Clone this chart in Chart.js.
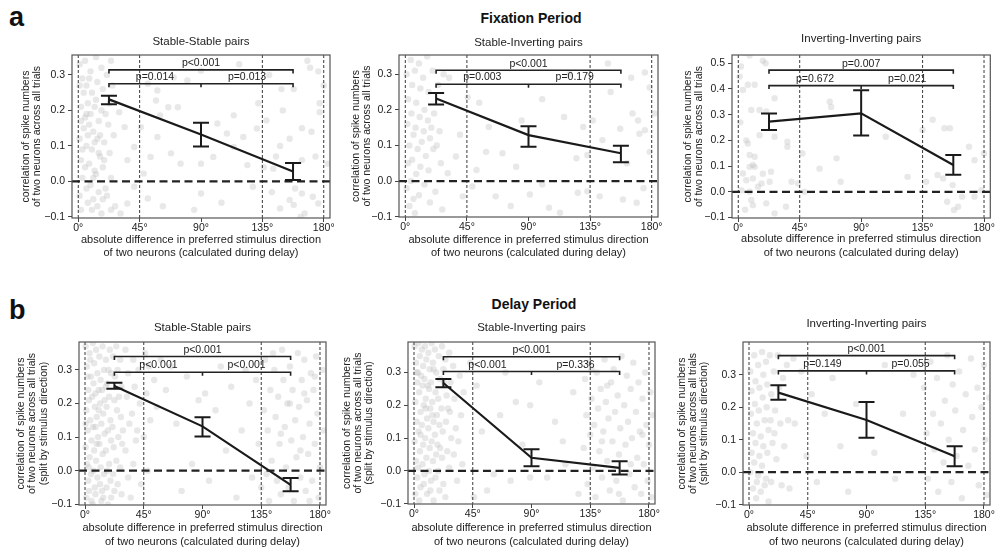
<!DOCTYPE html>
<html>
<head>
<meta charset="utf-8">
<script src="https://cdn.jsdelivr.net/npm/chart.js@4.4.0/dist/chart.umd.min.js"></script>
<style>
  body { margin: 0; width: 995px; height: 548px; position: relative; overflow: hidden; background: #fff;
         font-family: "Liberation Sans", Arial, sans-serif; color: #111; }
  canvas { position: absolute; }
  .letter { position: absolute; font-size: 27px; font-weight: bold; line-height: 1; }
  .period { position: absolute; font-size: 14px; font-weight: bold; transform: translate(-50%, -50%); white-space: nowrap; }
</style>
</head>
<body>
<div class="letter" style="left:9px;top:4px">a</div>
<div class="letter" style="left:9px;top:297px">b</div>
<div class="period" style="left:531px;top:18px">Fixation Period</div>
<div class="period" style="left:534px;top:304px">Delay Period</div>
<script>
// shared axis setup
const dirTicks = [0, 45, 90, 135, 180];
const refDirs = [0, 45, 135, 180];
const groupDirs = [22.5, 90, 157.5];
const yTicksLow = [-0.1, 0, 0.1, 0.2, 0.3];
const yTicksHigh = [-0.1, 0, 0.1, 0.2, 0.3, 0.4, 0.5];
const xTitle = ['absolute difference in preferred stimulus direction', 'of two neurons (calculated during delay)'];
const yTitleFix = ['correlation of spike numbers', 'of two neurons across all trials'];
const yTitleDelay = ['correlation of spike numbers', 'of two neurons across all trials', '(split by stimulus direction)'];

// ---- Fixation period ----
const fixSSMean = [0.231, 0.132, 0.028];
const fixSSLo = [0.217, 0.098, 0.004];
const fixSSHi = [0.241, 0.165, 0.052];
const fixSSBrk = [0.314, 0.275];
const fixSSP = ['p<0.001', 'p=0.014', 'p=0.013'];
const fixSSPts = [
  [1,0.33],[3,0.29],[2,0.21],[4,0.15],[1,0.12],[2,0.06],[3,0.01],[1,-0.04],[2,-0.08],[5,0.34],[6,0.27],[7,0.22],
  [5,0.18],[6,0.10],[8,0.05],[6,-0.02],[7,-0.06],[9,0.31],[10,0.25],[9,0.19],[11,0.14],[10,0.09],[12,0.03],[9,-0.01],
  [11,-0.05],[13,0.35],[14,0.28],[13,0.23],[15,0.17],[14,0.12],[16,0.07],[13,0.02],[15,-0.03],[17,0.32],[18,0.26],
  [17,0.20],[19,0.11],[18,0.04],[20,-0.02],[17,-0.09],[21,0.30],[22,0.16],[23,0.08],[21,-0.04],[24,0.34],[25,0.27],
  [26,0.13],[24,0.01],[27,-0.07],[4,0.25],[8,0.16],[12,0.21],[16,0.13],[3,0.09],[11,0.01],[19,0.06],[7,0.13],[15,0.08],
  [2,0.17],[20,0.19],[10,-0.08],[14,-0.07],[5,0.04],[23,0.22],[8,0.29],[12,0.11],[18,-0.05],[6,0.19],[1,0.27],
  [170,0.32],[176,0.31],[149,0.26],[158,0.26],[177,0.22],[177,0.195],[132,0.22],[150,0.2],[164,0.15],[171,0.14],
  [155,0.12],[148,0.10],[174,0.07],[164,0.06],[145,0.07],[136,0.04],[143,0.036],[142,-0.03],[159,-0.02],[164,-0.034],
  [172,-0.043],[176,-0.062],[155,-0.052],[158,-0.066],[166,-0.09],[163,-0.1],[148,-0.076],[128,-0.015],[124,0.046],
  [114,0.097],[121,0.125],[131,0.149],[138,0.172],[109,0.135],[114,0.186],[102,0.163],[90,0.312],[80,0.284],[70,0.293],
  [58,0.256],[51,0.275],[57,0.228],[66,0.209],[73,0.209],[60,0.186],[46,0.153],[58,0.125],[68,0.079],[75,0.05],[90,0.05],
  [90,-0.034],[99,0.069],[53,0.069],[48,0.022],[41,-0.015],[51,-0.048],[36,-0.062],[31,-0.09],[24,-0.08],[41,0.097],
  [36,0.06],[30,0.195],[34,0.153],[180,0.27],[183,0.05],[168,0.34],[140,0.30],[118,0.33],[105,-0.06],[85,-0.08],[62,-0.07]
];

const fixSIMean = [0.232, 0.129, 0.078];
const fixSILo = [0.215, 0.096, 0.053];
const fixSIHi = [0.247, 0.154, 0.099];
const fixSIBrk = [0.311, 0.272];
const fixSIP = ['p<0.001', 'p=0.003', 'p=0.179'];
const fixSIPts = [
  [1,0.30],[2,0.23],[1.5,0.16],[3,0.10],[2,0.05],[1,-0.02],[3,-0.07],[4,0.34],[5,0.27],[4.5,0.19],[6,0.13],[5,0.06],
  [4,0.00],[6,-0.05],[7,0.31],[8,0.22],[7.5,0.15],[9,0.09],[8,0.02],[7,-0.09],[10,0.33],[11,0.26],[10.5,0.18],[12,0.11],
  [11,0.04],[10,-0.04],[13,0.29],[14,0.20],[13.5,0.14],[15,0.07],[14,-0.01],[16,0.35],[17,0.25],[16.5,0.17],[18,0.12],
  [17,0.03],[18,-0.06],[20,0.31],[21,0.19],[20.5,0.09],[22,-0.03],[24,0.27],[25,0.14],[26,0.05],[28,0.30],[27,-0.08],
  [19,0.15],[23,0.10],
  [32,0.29],[45.6,0.235],[54,0.22],[100,0.23],[116,0.18],[165,0.29],[175,0.305],[178.5,0.263],[166,0.19],[170,0.17],
  [171,0.133],[175,0.143],[178.5,0.082],[157,0.147],[144,0.115],[137,0.17],[130,0.152],[133,0.073],[125,0.064],
  [126,-0.033],[133,-0.029],[142,-0.043],[159,-0.052],[169,-0.061],[105,-0.075],[113,-0.089],[100,-0.01],[81,0.04],
  [71,0.078],[61,0.152],[59,0.082],[52,0.031],[49,-0.015],[42,-0.043],[37,0.069],[31,0.022],[66,-0.043],[91,-0.038],
  [77,-0.07],[150,0.25],[162,0.05],[174,-0.02],[182,0.19],[148,0.33],[120,0.30],[85,0.17],[40,0.13]
];

const fixIIMean = [0.273, 0.305, 0.104];
const fixIILo = [0.240, 0.219, 0.066];
const fixIIHi = [0.304, 0.395, 0.143];
const fixIIBrk = [0.473, 0.413];
const fixIIP = ['p=0.007', 'p=0.672', 'p=0.021'];
const fixIIPts = [
  [4.6,0.54],[8.3,0.53],[18,0.51],[20,0.5],[2,0.487],[3.4,0.396],[1,0.448],[7,0.416],[12,0.416],[15.6,0.318],[9.5,0.318],
  [20.5,0.312],[26.6,0.364],[15.6,0.22],[5.9,0.2],[7,0.188],[8.3,0.143],[12,0.136],[10.7,0.104],[12,0.097],[8.3,0.097],
  [3.4,0.071],[5.9,0.045],[10.7,0.052],[2.2,0.006],[8.3,0],[14.4,0.02],[17,0.032],[23,0.039],[24,0.078],[9.5,-0.032],
  [10.7,-0.052],[20.5,-0.045],[26.6,-0.084],[35,-0.058],[39,0.039],[43.7,0.032],[36,0.195],[36,0.175],[26.6,0.214],
  [47,0.149],[48.5,0],[67,0.35],[68,0.33],[59.5,0.09],[72,0.13],[75,0.039],[108,0.214],[135,0.24],[142.4,0.28],
  [151,0.247],[155,0.247],[146,0.065],[150,0.052],[157,0.026],[153,-0.039],[161,-0.058],[158,-0.071],[169,0.175],
  [173,0.123],[173,-0.019],[178,0.006],[180,0.149],[164,-0.019],[124,0.058],[137.6,0.039],[1.5,0.27],[18,0.07],[5,-0.07]
];

// ---- Delay period ----
const delSSMean = [0.252, 0.132, -0.042];
const delSSLo = [0.244, 0.102, -0.061];
const delSSHi = [0.262, 0.159, -0.022];
const delSSBrk = [0.340, 0.293];
const delSSP = ['p<0.001', 'p<0.001', 'p<0.001'];
const delSSPts = [
  [0.5,0.37],[1.5,0.31],[2.5,0.24],[1,0.18],[2,0.12],[0.5,0.07],[1.5,0.02],[2.5,-0.03],[1,-0.08],
  [3.5,0.35],[4.5,0.28],[3,0.21],[4,0.15],[5,0.09],[3.5,0.04],[4.5,-0.01],[3,-0.06],[5,-0.09],
  [6,0.38],[7,0.32],[6.5,0.26],[7.5,0.19],[6,0.13],[7,0.06],[6.5,0.00],[7.5,-0.05],[6,-0.1],
  [8.5,0.36],[9.5,0.29],[8,0.23],[9,0.16],[10,0.10],[8.5,0.03],[9.5,-0.02],[8,-0.07],
  [11,0.34],[12,0.27],[11.5,0.20],[12.5,0.14],[11,0.08],[12,0.01],[11.5,-0.04],[12.5,-0.09],
  [13.5,0.37],[14.5,0.30],[13,0.24],[14,0.17],[15,0.11],[13.5,0.05],[14.5,-0.01],[13,-0.06],
  [16,0.33],[17,0.26],[16.5,0.19],[17.5,0.12],[16,0.06],[17,0.00],[16.5,-0.05],[17.5,-0.1],
  [19,0.36],[20,0.29],[18.5,0.22],[19.5,0.15],[20,0.09],[18.5,0.02],[19.5,-0.03],[20,-0.08],
  [21.5,0.34],[22.5,0.21],[21,0.13],[22,0.07],[21.5,-0.01],[22.5,-0.06],
  [24,0.37],[25,0.30],[24.5,0.18],[25.5,0.10],[24,0.03],[25,-0.04],
  [27,0.33],[28,0.25],[27.5,0.16],[28.5,0.08],[27,0.01],[28,-0.07],
  [2,0.28],[5.5,0.22],[8,0.13],[10.5,0.18],[15,0.21],[18,0.30],[3,0.01],[9,0.08],[14,-0.08],[23,0.28],[26,0.22],
  [29,0.12],[0.5,0.14],[10.5,0.24],[4,0.33],[16,0.25],
  [31,0.36],[33,0.29],[32,0.22],[34,0.14],[31,0.06],[33,-0.02],[35,-0.08],[37,0.33],[38,0.25],[36,0.17],[39,0.09],
  [37,0.02],[41,0.30],[42,0.20],[40,0.12],[43,-0.04],[46,0.35],[47,0.23],[45,0.10],[49,0.31],[50,0.15],[48,0.00],
  [53,0.27],[55,0.19],[58,0.33],
  [62,0.24],[66,0.31],[70,0.14],[74,-0.06],[78,0.28],[82,0.02],[87,0.21],[92,0.23],[95,-0.03],[100,0.18],[104,0.31],
  [108,0.06],[112,0.25],[116,-0.08],[120,0.12],[123,0.30],[126,0.20],[128,-0.02],
  [131,0.27],[133,0.08],[135,-0.05],[137,0.18],[138,0.33],[140,0.12],[141,-0.09],[142,0.24],[143,0.03],[145,0.30],
  [146,0.16],[147,-0.03],[148,0.22],[149,0.08],[150,-0.07],[151,0.36],[152,0.27],[153,0.13],[154,0.01],[155,0.20],
  [156,-0.05],[157,0.31],[158,0.09],[159,0.24],[160,-0.09],[161,0.15],[162,0.04],[163,0.35],[164,0.19],[165,-0.02],
  [166,0.27],[167,0.10],[168,0.33],[169,-0.06],[170,0.21],[171,0.05],[172,0.14],[173,0.29],[174,-0.03],[175,0.24],
  [176,0.08],[177,0.34],[178,0.17],[179,-0.08],[180,0.01],[182,0.30],[183,0.12],[144,0.35],[139,-0.01],[157,0.20],
  [165,0.06],[172,-0.09],[176,0.28],[150,0.11],[168,0.23]
];

const delSIMean = [0.268, 0.040, 0.009];
const delSILo = [0.255, 0.014, -0.011];
const delSIHi = [0.280, 0.066, 0.029];
const delSIBrk = [0.348, 0.303];
const delSIP = ['p<0.001', 'p<0.001', 'p=0.336'];
const delSIPts = [
  [0.5,0.38],[1.5,0.33],[2.5,0.27],[1,0.21],[2,0.15],[0.5,0.09],[1.5,0.03],[2.5,-0.02],[1,-0.07],
  [3.5,0.39],[4.5,0.35],[3,0.30],[4,0.24],[5,0.18],[3.5,0.12],[4.5,0.06],[3,0.01],[5,-0.05],[4,-0.09],
  [6,0.37],[7,0.32],[6.5,0.26],[7.5,0.20],[6,0.14],[7,0.08],[6.5,0.02],[7.5,-0.04],
  [8.5,0.38],[9.5,0.34],[8,0.28],[9,0.22],[10,0.16],[8.5,0.10],[9.5,0.04],[8,-0.01],[10,-0.07],
  [11,0.36],[12,0.31],[11.5,0.25],[12.5,0.19],[11,0.13],[12,0.07],[11.5,0.00],[12.5,-0.06],
  [13.5,0.39],[14.5,0.33],[13,0.27],[14,0.21],[15,0.15],[13.5,0.09],[14.5,0.03],[13,-0.03],[15,-0.09],
  [16,0.37],[17,0.30],[16.5,0.24],[17.5,0.17],[16,0.11],[17,0.05],[16.5,-0.02],
  [19,0.35],[20,0.28],[18.5,0.22],[19.5,0.14],[20,0.07],[18.5,0.00],[19.5,-0.06],
  [21.5,0.38],[22.5,0.31],[21,0.19],[22,0.12],[21.5,0.04],[22.5,-0.04],
  [24,0.34],[25,0.23],[24.5,0.15],[25.5,0.06],[24,-0.08],
  [27,0.36],[28,0.27],[27.5,0.18],[28.5,0.10],[27,0.01],
  [30,0.32],[31,0.22],[32,0.13],[30.5,0.05],[33,-0.03],[35,0.29],[36,0.17],[34,0.09],[38,0.24],[37,0.02],
  [2,0.30],[5.5,0.29],[9,0.19],[15,0.31],[18,0.08],[23,0.27],[26,0.19],[10.5,0.26],[5,0.11],[14,0.17],
  [43,0.33],[46,-0.08],[48,0.26],[52,0.12],[56,-0.06],[61,-0.01],[66,0.17],[70,0.30],[74,-0.03],[78,0.21],[83,0.08],
  [89,0.20],[89,-0.02],[96,0.27],[102,-0.02],[108,0.15],[114,0.09],[116,0.02],[122,0.24],[126,-0.07],
  [130,0.07],[131,0.28],[132,0.17],[133,-0.04],[134,0.33],[135,0.11],[136,0.22],[137,0.01],[138,0.14],[139,-0.08],
  [140,0.30],[141,0.19],[142,0.06],[143,0.25],[144,-0.02],[145,0.12],[146,0.34],[147,0.21],[148,0.03],[149,0.16],
  [150,-0.06],[151,0.27],[152,0.09],[153,0.31],[154,0.18],[155,-0.03],[156,0.23],[157,0.05],[158,0.13],[159,0.35],
  [160,-0.09],[161,0.20],[162,0.08],[163,0.29],[164,0.15],[165,-0.01],[166,0.25],[167,0.10],[168,0.33],[169,-0.05],
  [170,0.18],[171,0.04],[172,0.27],[173,0.12],[174,-0.07],[175,0.22],[176,0.02],[177,0.30],[178,0.14],[179,-0.03],
  [180,0.08],[181,0.24],[182,-0.08],[183,0.17],[136,0.31],[148,0.26],[157,-0.07],[166,0.02],[175,0.11],[144,0.09]
];

const delIIMean = [0.245, 0.161, 0.049];
const delIILo = [0.223, 0.106, 0.018];
const delIIHi = [0.268, 0.216, 0.080];
const delIIBrk = [0.359, 0.312];
const delIIP = ['p<0.001', 'p=0.149', 'p=0.055'];
const delIIPts = [
  [1,0.31],[2,0.25],[1.5,0.18],[3,0.12],[2,0.06],[1,0.00],[3,-0.05],[4,0.36],[5,0.28],[4.5,0.21],[6,0.15],[5,0.09],
  [4,0.03],[6,-0.03],[5.5,-0.08],[7,0.33],[8,0.26],[7.5,0.19],[9,0.11],[8,0.05],[7,-0.01],[9,-0.06],[10,0.37],[11,0.30],
  [10.5,0.23],[12,0.16],[11,0.08],[10,0.02],[12,-0.04],[13,0.34],[14,0.27],[13.5,0.20],[15,0.13],[14,0.06],[13,-0.02],
  [15,-0.09],[16,0.36],[17,0.24],[16.5,0.16],[18,0.09],[17,-0.03],[19,0.31],[20,0.19],[19.5,0.12],[21,0.04],[22,0.36],
  [23,0.26],[24,0.15],[25,-0.04],[26,0.29],[27,0.08],[29,0.33],[30,0.16],[31,-0.05],[34,0.35],[35,0.15],
  [40,0.31],[44,0.05],[48,0.24],[52,-0.03],[58,0.18],[64,0.29],[70,0.08],[76,-0.06],[82,0.21],[96,0.06],[104,0.33],
  [112,-0.02],[118,0.18],[126,0.30],
  [134,0.26],[136,0.12],[137,-0.02],[139,0.34],[141,0.18],[142,0.07],[144,0.29],[145,-0.06],[147,0.15],[149,0.03],
  [150,0.22],[152,0.36],[153,0.10],[155,-0.03],[156,0.27],[158,0.19],[159,0.05],[161,0.31],[163,-0.08],[164,0.13],
  [166,0.24],[168,0.02],[170,0.35],[171,0.17],[173,0.07],[175,0.26],[176,-0.04],[178,0.20],[180,0.33],[181,0.10],
  [182,-0.07],[184,0.23]
];

const panels = [
  {title: 'Stable-Stable pairs', pts: fixSSPts, mean: fixSSMean, lo: fixSSLo, hi: fixSSHi, brk: fixSSBrk, p: fixSSP,
   yMin: -0.103, yMax: 0.356, yTicks: yTicksLow, yTitle: yTitleFix,
   box: {l: 72, r: 330, t: 55, b: 218, titleY: 42.3, yTitleX: 26, xTitleY: 253.3}},
  {title: 'Stable-Inverting pairs', pts: fixSIPts, mean: fixSIMean, lo: fixSILo, hi: fixSIHi, brk: fixSIBrk, p: fixSIP,
   yMin: -0.101, yMax: 0.354, yTicks: yTicksLow, yTitle: yTitleFix,
   box: {l: 399, r: 658, t: 55, b: 217, titleY: 42.7, yTitleX: 356, xTitleY: 253.3}},
  {title: 'Inverting-Inverting pairs', pts: fixIIPts, mean: fixIIMean, lo: fixIILo, hi: fixIIHi, brk: fixIIBrk, p: fixIIP,
   yMin: -0.102, yMax: 0.532, yTicks: yTicksHigh, yTitle: yTitleFix,
   box: {l: 732, r: 991, t: 55, b: 218, titleY: 39, yTitleX: 688, xTitleY: 252.7}},
  {title: 'Stable-Stable pairs', pts: delSSPts, mean: delSSMean, lo: delSSLo, hi: delSSHi, brk: delSSBrk, p: delSSP,
   yMin: -0.102, yMax: 0.383, yTicks: yTicksLow, yTitle: yTitleDelay,
   box: {l: 79, r: 326, t: 342, b: 505, titleY: 327.5, yTitleX: 21.3, xTitleY: 541.7}},
  {title: 'Stable-Inverting pairs', pts: delSIPts, mean: delSIMean, lo: delSILo, hi: delSIHi, brk: delSIBrk, p: delSIP,
   yMin: -0.101, yMax: 0.393, yTicks: yTicksLow, yTitle: yTitleDelay,
   box: {l: 408, r: 655, t: 342, b: 504, titleY: 327.5, yTitleX: 346.7, xTitleY: 541.7}},
  {title: 'Inverting-Inverting pairs', pts: delIIPts, mean: delIIMean, lo: delIILo, hi: delIIHi, brk: delIIBrk, p: delIIP,
   yMin: -0.101, yMax: 0.401, yTicks: yTicksLow, yTitle: yTitleDelay,
   box: {l: 743, r: 990, t: 342, b: 505, titleY: 324, yTitleX: 681.7, xTitleY: 541.7}}
];

const FONT = '"Liberation Sans", Arial, sans-serif';
const INK = '#222';
const SUB = {size: 11.5, lh: 1.2};
const YT = {size: 10.5, lh: 1.076};
const XT = {size: 11, lh: 1.21};

// reference lines, zero line, error bars, significance brackets, frame
const overlay = {
  id: 'overlay',
  afterDatasetDraw(chart, args) {
    if (args.index !== 1) return;
    const {ctx, chartArea: a, scales: {x}} = chart;
    ctx.save();
    ctx.beginPath();
    ctx.rect(a.left, a.top, a.width, a.height);
    ctx.clip();
    ctx.strokeStyle = INK;
    ctx.lineWidth = 0.9;
    ctx.setLineDash([3, 2]);
    refDirs.forEach(d => {
      const px = x.getPixelForValue(d);
      ctx.beginPath();
      ctx.moveTo(px, a.top);
      ctx.lineTo(px, a.bottom);
      ctx.stroke();
    });
    ctx.restore();
  },
  afterDatasetsDraw(chart, args, o) {
    const {ctx, chartArea: a, scales: {x, y}} = chart;
    ctx.save();
    // horizontal zero line
    const y0 = y.getPixelForValue(0);
    ctx.strokeStyle = INK;
    ctx.lineWidth = 2.2;
    ctx.setLineDash([8, 4.5]);
    ctx.beginPath();
    ctx.moveTo(a.left, y0);
    ctx.lineTo(a.right, y0);
    ctx.stroke();
    ctx.setLineDash([]);

    // error bars with caps
    ctx.strokeStyle = '#1a1a1a';
    ctx.lineWidth = 2;
    groupDirs.forEach((d, i) => {
      const px = x.getPixelForValue(d);
      const top = y.getPixelForValue(o.hi[i]);
      const bot = y.getPixelForValue(o.lo[i]);
      ctx.beginPath();
      ctx.moveTo(px, top); ctx.lineTo(px, bot);
      ctx.moveTo(px - 8, top); ctx.lineTo(px + 8, top);
      ctx.moveTo(px - 8, bot); ctx.lineTo(px + 8, bot);
      ctx.stroke();
    });

    // brackets
    const xl = x.getPixelForValue(groupDirs[0]);
    const xm = x.getPixelForValue(groupDirs[1]);
    const xr = x.getPixelForValue(groupDirs[2]);
    const yt = y.getPixelForValue(o.brk[0]);
    const yb = y.getPixelForValue(o.brk[1]);
    const tick = 3.5;
    ctx.strokeStyle = INK;
    ctx.lineWidth = 1.6;
    ctx.beginPath();
    ctx.moveTo(xl, yt + tick); ctx.lineTo(xl, yt); ctx.lineTo(xr, yt); ctx.lineTo(xr, yt + tick);
    ctx.moveTo(xl, yb + tick); ctx.lineTo(xl, yb); ctx.lineTo(xr, yb); ctx.lineTo(xr, yb + tick);
    ctx.moveTo(xm, yb); ctx.lineTo(xm, yb + tick);
    ctx.stroke();

    ctx.fillStyle = INK;
    ctx.font = '10.5px ' + FONT;
    ctx.textAlign = 'center';
    ctx.textBaseline = 'alphabetic';
    ctx.fillText(o.p[0], x.getPixelForValue((groupDirs[0] + groupDirs[2]) / 2), yt - 3.6);
    ctx.fillText(o.p[1], x.getPixelForValue((groupDirs[0] + groupDirs[1]) / 2), yb - 4);
    ctx.fillText(o.p[2], x.getPixelForValue((groupDirs[1] + groupDirs[2]) / 2), yb - 4);
    ctx.restore();
  },
  afterDraw(chart) {
    const {ctx, chartArea: a} = chart;
    ctx.save();
    ctx.strokeStyle = '#555';
    ctx.lineWidth = 1.2;
    ctx.strokeRect(a.left, a.top, a.width, a.height);
    ctx.restore();
  }
};

function fmtY(v) {
  return (Math.round(v * 10) / 10).toFixed(1).replace('-', '\u2212');
}

function buildPanel(p) {
  const b = p.box;
  const subLH = SUB.size * SUB.lh;
  const yLH = YT.size * YT.lh;
  const xLH = XT.size * XT.lh;
  const left = Math.floor(b.yTitleX - yLH / 2 - 1);
  const top = Math.floor(b.titleY - subLH / 2 - 2);
  const right = Math.min(b.r + 12, 995);
  const bottom = Math.ceil(b.xTitleY + xLH / 2 + 2);

  const canvas = document.createElement('canvas');
  canvas.width = right - left;
  canvas.height = bottom - top;
  canvas.style.left = left + 'px';
  canvas.style.top = top + 'px';
  document.body.appendChild(canvas);

  const yW = b.l - left;
  const xH = bottom - b.b;

  new Chart(canvas, {
    type: 'scatter',
    data: {
      datasets: [
        {
          data: groupDirs.map((d, i) => ({x: d, y: p.mean[i]})),
          showLine: true,
          borderColor: '#1a1a1a',
          borderWidth: 2.2,
          pointRadius: 0
        },
        {
          data: p.pts.map(([x, y]) => ({x, y})),
          pointRadius: 3.2,
          pointBorderWidth: 0,
          backgroundColor: 'rgba(185,185,185,0.32)',
          borderColor: 'rgba(0,0,0,0)'
        }
      ]
    },
    options: {
      responsive: false,
      animation: false,
      events: [],
      layout: {padding: {left: 0, top: 0, bottom: 0, right: right - b.r}},
      plugins: {
        legend: {display: false},
        tooltip: {enabled: false},
        title: {
          display: true,
          text: p.title,
          fullSize: false,
          color: INK,
          font: {family: FONT, size: SUB.size, weight: 'normal', lineHeight: SUB.lh},
          padding: {top: b.titleY - subLH / 2 - top, bottom: b.t - (b.titleY + subLH / 2)}
        },
        overlay: {lo: p.lo, hi: p.hi, brk: p.brk, p: p.p}
      },
      scales: {
        x: {
          type: 'linear',
          min: -4.6,
          max: 184.6,
          afterBuildTicks: s => { s.ticks = dirTicks.map(v => ({value: v})); },
          afterFit: s => { s.height = xH; },
          border: {display: false},
          grid: {drawOnChartArea: false, drawTicks: true, tickLength: 4, tickColor: '#444', tickWidth: 1},
          ticks: {
            padding: 0,
            maxRotation: 0,
            color: INK,
            font: {family: FONT, size: 10.5},
            callback: v => v + '\u00b0'
          },
          title: {
            display: true,
            text: xTitle,
            color: INK,
            font: {family: FONT, size: XT.size, lineHeight: XT.lh},
            padding: {top: 0, bottom: bottom - b.xTitleY - xLH / 2}
          }
        },
        y: {
          type: 'linear',
          min: p.yMin,
          max: p.yMax,
          afterBuildTicks: s => { s.ticks = p.yTicks.map(v => ({value: v})); },
          afterFit: s => { s.width = yW; },
          border: {display: false},
          grid: {drawOnChartArea: false, drawTicks: true, tickLength: 4, tickColor: '#444', tickWidth: 1},
          ticks: {
            padding: 3,
            color: INK,
            font: {family: FONT, size: 10.5},
            callback: v => fmtY(v)
          },
          title: {
            display: true,
            text: p.yTitle,
            color: INK,
            font: {family: FONT, size: YT.size, lineHeight: YT.lh},
            padding: {top: b.yTitleX - yLH / 2 - left, bottom: 0}
          }
        }
      }
    },
    plugins: [overlay]
  });
}

panels.forEach(buildPanel);
</script>
</body>
</html>
